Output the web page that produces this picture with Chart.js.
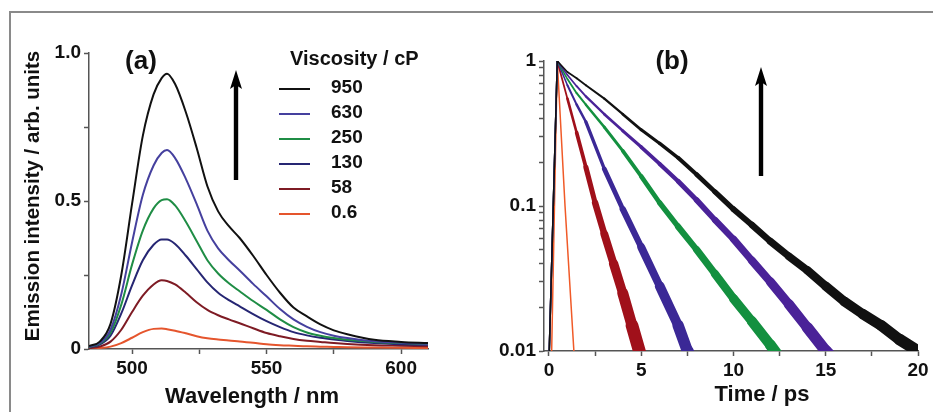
<!DOCTYPE html>
<html>
<head>
<meta charset="utf-8">
<title>Emission spectra and decays</title>
<script src="https://cdn.jsdelivr.net/npm/chart.js@4.4.1/dist/chart.umd.min.js"></script>
<style>
  html, body { margin: 0; padding: 0; background: #fff; overflow: hidden; }
  #page { position: relative; width: 933px; height: 412px; overflow: hidden; background: #fff; }
  #frame { position: absolute; left: 9px; top: 11px; width: 960px; height: 440px;
           border-top: 2px solid #8a8a8a; border-left: 2px solid #8a8a8a; }
  #chartA { position: absolute; left: 0; top: 0; }
  #chartB { position: absolute; left: 470px; top: 0; }
</style>
</head>
<body>
<div id="page">
  <div id="frame"></div>
  <canvas id="chartA" width="470" height="412"></canvas>
  <canvas id="chartB" width="463" height="412"></canvas>
</div>
<script>
// ---- data, panel (a): emission spectra ----
const viscosities = ['950', '630', '250', '130', '58', '0.6'];
const wavelength = [484, 488, 492, 496, 500, 504, 508, 511, 513, 516, 520, 524, 528, 532, 536, 540, 545, 550, 555, 560, 565, 570, 575, 580, 590, 600, 610];
const emission950 = [0.01, 0.025, 0.085, 0.25, 0.49, 0.72, 0.86, 0.915, 0.93, 0.895, 0.80, 0.68, 0.55, 0.465, 0.415, 0.375, 0.315, 0.25, 0.19, 0.14, 0.11, 0.083, 0.063, 0.05, 0.031, 0.024, 0.02];
const emission630 = [0.008, 0.02, 0.065, 0.185, 0.36, 0.52, 0.62, 0.662, 0.672, 0.645, 0.575, 0.49, 0.40, 0.34, 0.30, 0.265, 0.22, 0.178, 0.135, 0.10, 0.075, 0.057, 0.045, 0.037, 0.026, 0.021, 0.018];
const emission250 = [0.007, 0.018, 0.055, 0.15, 0.285, 0.40, 0.475, 0.503, 0.506, 0.485, 0.43, 0.365, 0.30, 0.255, 0.222, 0.195, 0.162, 0.132, 0.10, 0.074, 0.056, 0.045, 0.037, 0.031, 0.024, 0.02, 0.017];
const emission130 = [0.006, 0.015, 0.045, 0.12, 0.215, 0.30, 0.352, 0.37, 0.37, 0.355, 0.315, 0.27, 0.225, 0.19, 0.165, 0.144, 0.118, 0.094, 0.074, 0.057, 0.046, 0.038, 0.032, 0.027, 0.02, 0.016, 0.014];
const emission58 = [0.003, 0.008, 0.025, 0.065, 0.125, 0.18, 0.218, 0.232, 0.23, 0.218, 0.19, 0.158, 0.132, 0.114, 0.10, 0.087, 0.07, 0.054, 0.043, 0.034, 0.028, 0.024, 0.02, 0.017, 0.013, 0.011, 0.009];
const emission06 = [0.001, 0.003, 0.008, 0.02, 0.038, 0.057, 0.068, 0.069, 0.067, 0.062, 0.053, 0.043, 0.036, 0.032, 0.029, 0.025, 0.021, 0.016, 0.013, 0.011, 0.009, 0.008, 0.007, 0.006, 0.005, 0.004, 0.003];

// ---- data, panel (b): normalised decays (time in ps) ----
const time950 = [-0.05, 0.45, 1, 1.5, 2, 3, 4, 5, 6, 7, 8, 9, 10, 11, 12, 13, 14, 15, 16, 17, 18, 19, 20];
const decay950 = [0.005, 1, 0.84, 0.76, 0.68, 0.55, 0.43, 0.335, 0.27, 0.215, 0.165, 0.125, 0.095, 0.074, 0.057, 0.045, 0.036, 0.028, 0.022, 0.018, 0.015, 0.012, 0.01];
const time630 = [-0.05, 0.45, 1, 1.5, 2, 3, 4, 5, 6, 7, 8, 9, 10, 11, 12, 13, 14, 15, 15.5];
const decay630 = [0.005, 1, 0.8, 0.67, 0.57, 0.43, 0.33, 0.255, 0.195, 0.148, 0.11, 0.08, 0.059, 0.042, 0.03, 0.021, 0.0145, 0.01, 0.0085];
const time250 = [-0.05, 0.45, 1, 1.5, 2, 3, 4, 5, 6, 7, 8, 9, 10, 11, 12, 12.5];
const decay250 = [0.005, 1, 0.75, 0.6, 0.5, 0.35, 0.24, 0.16, 0.105, 0.072, 0.05, 0.034, 0.023, 0.016, 0.011, 0.009];
const time130 = [-0.05, 0.45, 1, 1.5, 2, 3, 4, 5, 6, 7, 7.5, 8];
const decay130 = [0.005, 1, 0.68, 0.5, 0.38, 0.18, 0.095, 0.052, 0.028, 0.015, 0.01, 0.0075];
const time58 = [-0.05, 0.45, 1, 1.5, 2, 2.5, 3, 3.5, 4, 4.5, 5];
const decay58 = [0.005, 1, 0.55, 0.32, 0.185, 0.105, 0.064, 0.04, 0.025, 0.015, 0.009];
const time06 = [0.1, 0.45, 0.87, 1.35, 1.45];
const decay06 = [0.005, 1, 0.1, 0.01, 0.007];

const spectraColors = ['#111111', '#45409e', '#1f8d45', '#262673', '#7e1b24', '#e5552d'];
const decayColors = ['#111111', '#4a2298', '#13903f', '#3b2896', '#a0101a', '#f05a28'];
const decayNoise = [1.2, 1.2, 1.1, 1.2, 1.35, 0];

const FONT = '"Liberation Sans", Arial, Helvetica, sans-serif';
const AXIS = '#555555';

function xy(xs, ys) {
  return xs.map((x, i) => ({ x: x, y: ys[i] }));
}

function fixedTicks(values) {
  return scale => { scale.ticks = values.map(v => ({ value: v })); };
}

function drawArrow(ctx, x, yTop, yBottom) {
  ctx.save();
  ctx.fillStyle = '#000';
  ctx.fillRect(x - 2.2, yTop + 12, 4.4, yBottom - yTop - 12);
  ctx.beginPath();
  ctx.moveTo(x, yTop);
  ctx.lineTo(x - 6, yTop + 19);
  ctx.lineTo(x, yTop + 15);
  ctx.lineTo(x + 6, yTop + 19);
  ctx.closePath();
  ctx.fill();
  ctx.restore();
}

function text(ctx, str, x, y, size, align, baseline) {
  ctx.font = 'bold ' + size + 'px ' + FONT;
  ctx.textAlign = align;
  ctx.textBaseline = baseline;
  ctx.fillStyle = '#111';
  ctx.fillText(str, x, y);
}

const tickFont = { family: FONT, size: 19, weight: 'bold' };
const gridStyle = { drawOnChartArea: false, drawTicks: true, tickLength: 5, tickColor: AXIS, tickWidth: 1.5 };
const borderStyle = { color: AXIS, width: 1.5 };

// ---- panel (a) ----
const spectra = [emission950, emission630, emission250, emission130, emission58, emission06];

const panelAExtras = {
  id: 'panelAExtras',
  afterDraw(chart) {
    const ctx = chart.ctx;
    ctx.save();
    text(ctx, '(a)', 141, 62, 26, 'center', 'middle');
    text(ctx, 'Wavelength / nm', 252, 403, 22, 'center', 'alphabetic');
    ctx.save();
    ctx.translate(33, 196);
    ctx.rotate(-Math.PI / 2);
    text(ctx, 'Emission intensity / arb. units', 0, 0, 20.5, 'center', 'middle');
    ctx.restore();
    // legend
    text(ctx, 'Viscosity / cP', 290, 65, 20, 'left', 'alphabetic');
    chart.data.datasets.forEach((ds, i) => {
      const y = 88 + i * 25;
      ctx.strokeStyle = ds.borderColor;
      ctx.lineWidth = 2;
      ctx.beginPath();
      ctx.moveTo(279, y + 1);
      ctx.lineTo(310, y + 1);
      ctx.stroke();
      text(ctx, ds.label, 331, y, 19, 'left', 'middle');
    });
    drawArrow(ctx, 236, 70, 180);
    ctx.restore();
  }
};

new Chart(document.getElementById('chartA'), {
  type: 'line',
  data: {
    datasets: viscosities.map((v, i) => ({
      label: v,
      data: xy(wavelength, spectra[i]),
      borderColor: spectraColors[i],
      borderWidth: 2,
      pointRadius: 0,
      cubicInterpolationMode: 'monotone'
    }))
  },
  options: {
    responsive: false,
    animation: false,
    layout: { padding: { left: 0, right: 42, top: 53, bottom: 0 } },
    plugins: { legend: { display: false }, tooltip: { enabled: false } },
    scales: {
      x: {
        type: 'linear', min: 484, max: 610,
        afterBuildTicks: fixedTicks([500, 525, 550, 575, 600]),
        afterFit: s => { s.height = 63; },
        ticks: { callback: v => (v % 50 === 0 ? String(v) : ''), font: tickFont, color: '#111', padding: 3, autoSkip: false, maxRotation: 0 },
        grid: gridStyle, border: borderStyle
      },
      y: {
        min: 0, max: 1,
        afterBuildTicks: fixedTicks([0, 0.25, 0.5, 0.75, 1]),
        afterFit: s => { s.width = 89; },
        ticks: { callback: v => (v === 0 ? '0' : v === 0.5 ? '0.5' : v === 1 ? '1.0' : ''), font: tickFont, color: '#111', padding: 3, autoSkip: false },
        grid: gridStyle, border: borderStyle
      }
    }
  },
  plugins: [panelAExtras]
});

// ---- panel (b) ----
const decayTimes = [time950, time630, time250, time130, time58, time06];
const decays = [decay950, decay630, decay250, decay130, decay58, decay06];
const logTicks = [0.01, 0.02, 0.03, 0.04, 0.05, 0.06, 0.07, 0.08, 0.09, 0.1, 0.2, 0.3, 0.4, 0.5, 0.6, 0.7, 0.8, 0.9, 1];
const logLabels = { 0.01: '0.01', 0.1: '0.1', 1: '1' };

// noisy photon counts widen the trace as the signal drops (rise stays thin)
function noisyWidth(k) {
  return c => {
    const top = Math.max(c.p0.parsed.y, c.p1.parsed.y);
    const lg = -(Math.log10(c.p0.parsed.y) + Math.log10(c.p1.parsed.y)) / 2;
    if (top >= 1 && c.p0.parsed.x < 0.45) return 1.5;
    const d = Math.max(0, Math.min(2.2, lg));
    return 1.5 + k * 3.3 * Math.pow(d, 1.4);
  };
}

const panelBExtras = {
  id: 'panelBExtras',
  afterDraw(chart) {
    const ctx = chart.ctx;
    ctx.save();
    text(ctx, '(b)', 202, 62, 26, 'center', 'middle');
    text(ctx, 'Time / ps', 292, 401, 22, 'center', 'alphabetic');
    drawArrow(ctx, 291, 67, 176);
    ctx.restore();
  }
};

new Chart(document.getElementById('chartB'), {
  type: 'line',
  data: {
    datasets: viscosities.map((v, i) => ({
      label: v,
      data: xy(decayTimes[i], decays[i]),
      borderColor: decayColors[i],
      borderWidth: 1.5,
      borderCapStyle: 'round',
      borderJoinStyle: 'round',
      pointRadius: 0,
      clip: 0,
      segment: { borderWidth: noisyWidth(decayNoise[i]) }
    }))
  },
  options: {
    responsive: false,
    animation: false,
    layout: { padding: { left: 0, right: 15, top: 61, bottom: 0 } },
    plugins: { legend: { display: false }, tooltip: { enabled: false } },
    scales: {
      x: {
        type: 'linear', min: -0.27, max: 20,
        afterBuildTicks: fixedTicks([0, 2.5, 5, 7.5, 10, 12.5, 15, 17.5, 20]),
        afterFit: s => { s.height = 61; },
        ticks: { callback: v => (v % 5 === 0 ? String(v) : ''), font: tickFont, color: '#111', padding: 3, autoSkip: false, maxRotation: 0 },
        grid: gridStyle, border: borderStyle
      },
      y: {
        type: 'logarithmic', min: 0.01, max: 1,
        afterBuildTicks: fixedTicks(logTicks),
        afterFit: s => { s.width = 74; },
        ticks: { callback: v => logLabels[v] || '', font: tickFont, color: '#111', padding: 3, autoSkip: false },
        grid: gridStyle, border: borderStyle
      }
    }
  },
  plugins: [panelBExtras]
});
</script>
</body>
</html>
